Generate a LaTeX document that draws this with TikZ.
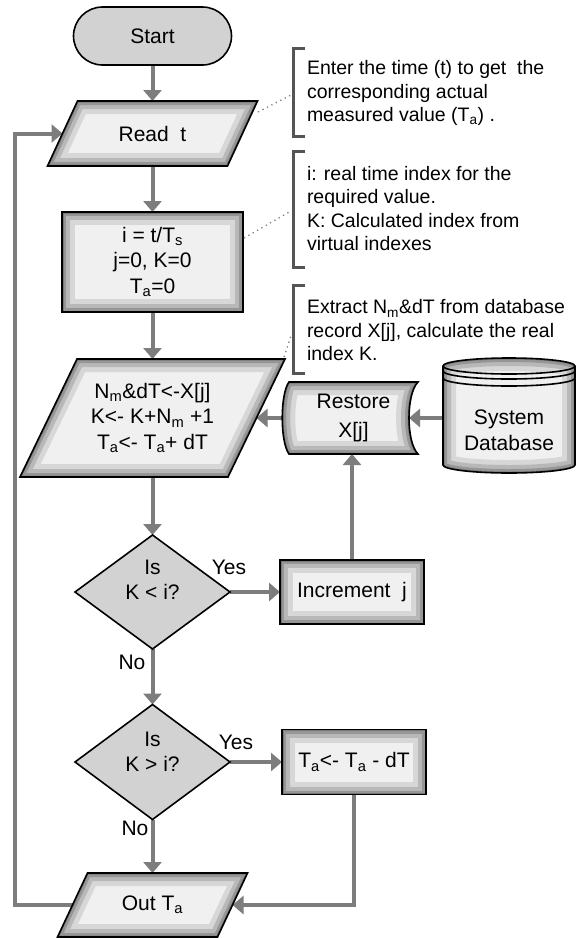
\documentclass[tikz,border=0pt]{standalone}
\usepackage{fontspec}
\setmainfont{Liberation Sans}
\usetikzlibrary{shapes.geometric,arrows.meta,calc}
\pgfdeclarelayer{conn}
\pgfdeclarelayer{shp}
\pgfsetlayers{conn,shp,main}
\definecolor{flat}{RGB}{210,210,210}
\definecolor{conn}{RGB}{125,125,125}
\definecolor{brk}{RGB}{85,85,85}
\definecolor{shadefill}{RGB}{240,240,240}
\newcommand\glowit[1]{\begin{scope}\clip #1;\foreach \w/\o in {26/0.10,16/0.14,8/0.18,3/0.2}{\draw[line width=\w pt,black,opacity=\o,line join=round] #1;}\end{scope}}
\newcommand\shapeit[1]{\fill[shadefill] #1; \glowit{#1}\draw[line width=1.6pt] #1;}
\begin{document}
\begin{tikzpicture}[x=1pt,y=-1pt,
 every node/.style={font=\fontsize{21}{25.5}\selectfont, inner sep=0pt, outer sep=0pt, align=center},
 flatnode/.style={draw=black, line width=1.6pt, fill=flat},
 arr/.style={draw=conn, line width=4pt, -{Triangle[width=18pt,length=11pt]}},
 ann/.style={anchor=west, align=left, font=\fontsize{19.5}{23.5}\selectfont},
 brack/.style={draw=brk, line width=3pt},
 dots/.style={draw=gray, line width=1.3pt, dash pattern=on 1.3pt off 3.7pt}]
\useasboundingbox (0,0) rectangle (576,938);
% nodes
\node[flatnode, rounded corners=29pt, minimum width=158pt, minimum height=58pt] (start) at (152.5,36) {Start};
\node[minimum width=180pt, minimum height=65pt] (read) at (152.5,133.5) {Read\ \ t};
\node[minimum width=181pt, minimum height=100pt] (init) at (152.5,262) {i = t/T\textsubscript{s}\\j=0, K=0\\T\textsubscript{a}=0};
\node[minimum width=208pt, minimum height=118pt] (calc) at (152.5,418) {N\textsubscript{m}\&dT<-X[j]\\K<- K+N\textsubscript{m} +1\\T\textsubscript{a}<- T\textsubscript{a}+ dT};
\node[diamond, flatnode, minimum width=155pt, minimum height=114pt] (d1) at (152.5,592) {};
\node (d1t) at (152.5,580) {Is\\K < i?};
\node[diamond, flatnode, minimum width=155pt, minimum height=115pt] (d2) at (152.5,762) {};
\node (d2t) at (152.5,752) {Is\\K > i?};
\node[minimum width=160pt, minimum height=64pt] (out) at (152.5,905) {Out T\textsubscript{a}};
\node[minimum width=129pt, minimum height=72pt] (restore) at (353.5,418) {Restore\\[3.5pt]X[j]};
\coordinate (restoreR) at (409,418);
\node[minimum width=132pt, minimum height=86pt] (db) at (509,430.5) {System\\Database};
\node[minimum width=144pt, minimum height=64pt] (inc) at (352,592) {Increment\ \ j};
\node[minimum width=144pt, minimum height=65pt] (sub) at (354,762) {T\textsubscript{a}<- T\textsubscript{a} - dT};
\node (y1) at (229,567) {Yes};
\node (y2) at (236,742) {Yes};
\node (n1) at (132,662) {No};
\node (n2) at (135,828) {No};
% annotations
\node[ann] (a1) at (307,93) {Enter the time (t) to get\ \ the\\corresponding actual\\measured value (T\textsubscript{a}) .};
\node[ann] (a2) at (307,208.5) {i: real time index for the\\required value.\\K: Calculated index from\\virtual indexes};
\node[ann] (a3) at (307,330.5) {Extract N\textsubscript{m}\&dT from database\\record X[j], calculate the real\\index K.};
\draw[brack] (305,48) -- (293,48) -- (293,136) -- (305,136);
\draw[brack] (305,151) -- (293,151) -- (293,267) -- (305,267);
\draw[brack] (305,285) -- (293,285) -- (293,373) -- (305,373);
\coordinate (b1) at (291,95);
\coordinate (b2) at (291,211);
\coordinate (b3) at (292,333);
\draw[dots] (258,112) -- (b1);
\draw[dots] (244,238) -- (b2);
\draw[dots] (284,357) -- (b3);
% shapes
\begin{pgfonlayer}{shp}
\shapeit{($(read.north west)+(15,0)$) -- ($(read.north east)+(15,0)$) -- ($(read.south east)+(-15,0)$) -- ($(read.south west)+(-15,0)$) -- cycle}
\shapeit{(init.north west) rectangle (init.south east)}
\shapeit{($(calc.north west)+(28.5,0)$) -- ($(calc.north east)+(28.5,0)$) -- ($(calc.south east)+(-28.5,0)$) -- ($(calc.south west)+(-28.5,0)$) -- cycle}
\shapeit{($(out.north west)+(15,0)$) -- ($(out.north east)+(15,0)$) -- ($(out.south east)+(-15,0)$) -- ($(out.south west)+(-15,0)$) -- cycle}
\shapeit{(inc.north west) rectangle (inc.south east)}
\shapeit{(sub.north west) rectangle (sub.south east)}
\shapeit{(289,382) -- (418,382) .. controls (406,394) and (406,442) .. (418,454) -- (289,454) .. controls (280,442) and (280,394) .. (289,382) -- cycle}
\shapeit{(443,366) -- (443,465) arc[start angle=180,end angle=360,x radius=66pt,y radius=8pt] -- (575,366) arc[start angle=0,end angle=180,x radius=66pt,y radius=8pt] -- cycle}
\draw[line width=1.6pt] (443,366) arc[start angle=180,end angle=360,x radius=66pt,y radius=8pt];
\draw[line width=1.6pt] (443,371) arc[start angle=180,end angle=360,x radius=66pt,y radius=8pt];
\draw[line width=1.6pt] (443,378) arc[start angle=180,end angle=360,x radius=66pt,y radius=8pt];
\end{pgfonlayer}
% connectors
\begin{pgfonlayer}{conn}
\fill[white] (0,0) rectangle (576,938);
\draw[arr] (start) -- (read);
\draw[arr] (read) -- (init);
\draw[arr] (init) -- (calc);
\draw[arr] (calc) -- (d1);
\draw[arr] (d1) -- (d2);
\draw[arr] (d2) -- (out);
\draw[arr] (d1) -- (inc);
\draw[arr] (d2) -- (sub);
\draw[arr] (inc) -- (inc.north |- restore.south);
\draw[arr] (db.west |- restoreR) -- (restoreR);
\draw[arr] (restore.west) -- (calc.east);
\draw[arr] (sub.south) |- (out.east);
\coordinate (loopx) at (15,500);
\draw[arr] (out.west) -| (loopx) |- (read.west);
\end{pgfonlayer}
\end{tikzpicture}
\end{document}
